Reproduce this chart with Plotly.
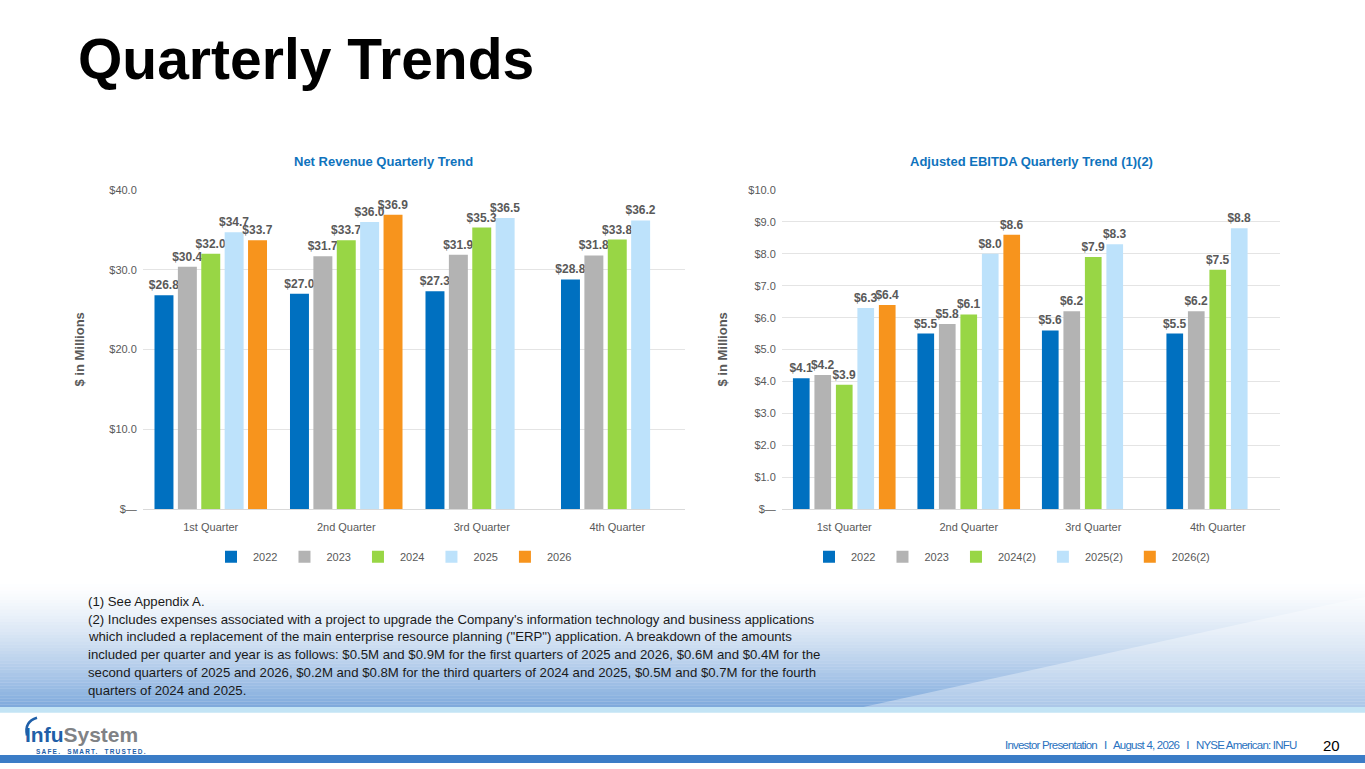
import plotly.graph_objects as go

W, H = 1365, 769

# chart data
quarters = ["1st Quarter", "2nd Quarter", "3rd Quarter", "4th Quarter"]
rev_years = ["2022", "2023", "2024", "2025", "2026"]
ebitda_years = ["2022", "2023", "2024(2)", "2025(2)", "2026(2)"]
year_colors = ["#0070C0", "#B3B3B3", "#98D645", "#BDE2FB", "#F7941D"]

rev_2022 = [26.8, 27.0, 27.3, 28.8]
rev_2023 = [30.4, 31.7, 31.9, 31.8]
rev_2024 = [32.0, 33.7, 35.3, 33.8]
rev_2025 = [34.7, 36.0, 36.5, 36.2]
rev_2026 = [33.7, 36.9, None, None]

ebitda_2022 = [4.1, 5.5, 5.6, 5.5]
ebitda_2023 = [4.2, 5.8, 6.2, 6.2]
ebitda_2024 = [3.9, 6.1, 7.9, 7.5]
ebitda_2025 = [6.3, 8.0, 8.3, 8.8]
ebitda_2026 = [6.4, 8.6, None, None]

rev_ticks = [0, 10, 20, 30, 40]
rev_ticktext = ["$\u2014", "$10.0", "$20.0", "$30.0", "$40.0"]
ebitda_ticks = [0, 1, 2, 3, 4, 5, 6, 7, 8, 9, 10]
ebitda_ticktext = ["$\u2014", "$1.0", "$2.0", "$3.0", "$4.0", "$5.0",
                   "$6.0", "$7.0", "$8.0", "$9.0", "$10.0"]

footnotes = [
    "(1) See Appendix A.",
    "(2) Includes expenses associated with a project to upgrade the Company's information technology and business applications",
    "which included a replacement of the main enterprise resource planning (\"ERP\") application. A breakdown of the amounts",
    "included per quarter and year is as follows: $0.5M and $0.9M for the first quarters of 2025 and 2026, $0.6M and $0.4M for the",
    "second quarters of 2025 and 2026, $0.2M and $0.8M for the third quarters of 2024 and 2025, $0.5M and $0.7M for the fourth",
    "quarters of 2024 and 2025.",
]

ARIAL = "Arial, Liberation Sans, sans-serif"
GRAY = "#595959"


def fx(px):
    return px / W


def fy(py):
    return 1 - py / H


fig = go.Figure()

rev_series = [rev_2022, rev_2023, rev_2024, rev_2025, rev_2026]
for name, vals, col in zip(rev_years, rev_series, year_colors):
    fig.add_trace(go.Bar(
        x=quarters, y=vals, name=name, marker_color=col, marker_line_width=0,
        width=0.14, xaxis="x", yaxis="y", legend="legend",
        texttemplate="$%{y:.1f}", textposition="outside", cliponaxis=False,
        constraintext="none",
        textfont=dict(family=ARIAL, size=12, color=GRAY, weight="bold"),
        hoverinfo="skip",
    ))

ebitda_series = [ebitda_2022, ebitda_2023, ebitda_2024, ebitda_2025, ebitda_2026]
for name, vals, col in zip(ebitda_years, ebitda_series, year_colors):
    fig.add_trace(go.Bar(
        x=quarters, y=vals, name=name, marker_color=col, marker_line_width=0,
        width=0.134, xaxis="x2", yaxis="y2", legend="legend2",
        texttemplate="$%{y:.1f}", textposition="outside", cliponaxis=False,
        constraintext="none",
        textfont=dict(family=ARIAL, size=12, color=GRAY, weight="bold"),
        hoverinfo="skip",
    ))

axis_font = dict(family=ARIAL, size=11, color=GRAY)
xcommon = dict(showgrid=False, zeroline=False, showline=False, ticks="outside",
               ticklen=8, tickcolor="rgba(0,0,0,0)", tickfont=axis_font,
               fixedrange=True)
ycommon = dict(showgrid=True, gridcolor="#E4E4E4", gridwidth=1, zeroline=True,
               zerolinecolor="#D9D9D9", zerolinewidth=1, showline=False,
               ticks="outside", ticklen=3, tickcolor="rgba(0,0,0,0)",
               tickfont=axis_font, fixedrange=True)

# page background: blue band, light stripe, bottom bar
shapes = []
n_strips = 40
top, bottom = 584, 713
for i in range(n_strips):
    t = (i + 0.5) / n_strips
    y0 = top + (bottom - top) * i / n_strips
    y1 = top + (bottom - top) * (i + 1) / n_strips
    shapes.append(dict(type="rect", xref="paper", yref="paper", layer="below",
                       x0=0, x1=1, y0=fy(y1), y1=fy(y0), line_width=0,
                       fillcolor=f"rgba(52,120,200,{0.64 * t ** 1.4:.3f})"))
shapes.append(dict(type="path", xref="paper", yref="paper", layer="below",
                   path=f"M {fx(860)},{fy(713)} L {fx(1365)},{fy(600)} L {fx(1365)},{fy(713)} Z",
                   fillcolor="rgba(255,255,255,0.35)", line_width=0))
shapes.append(dict(type="rect", xref="paper", yref="paper", layer="below",
                   x0=0, x1=1, y0=fy(718), y1=fy(712), line_width=0,
                   fillcolor="#C3E4F5"))
shapes.append(dict(type="rect", xref="paper", yref="paper", layer="below",
                   x0=0, x1=1, y0=0, y1=fy(761), line_width=0,
                   fillcolor="#3B7CC6"))
# logo arc
shapes.append(dict(type="path", xref="paper", yref="paper",
                   path=f"M {fx(27)},{fy(741)} Q {fx(24)},{fy(727)} {fx(37)},{fy(723)}",
                   line=dict(color="#1F5FA8", width=2.5)))

annotations = [
    dict(text="Quarterly Trends", x=fx(76), y=fy(54), xanchor="left",
         font=dict(family=ARIAL, size=57, color="#000000", weight="bold")),
    dict(text="Net Revenue Quarterly Trend", x=fx(383), y=fy(158), xanchor="center",
         font=dict(family=ARIAL, size=13, color="#0F73BD", weight="bold")),
    dict(text="Adjusted EBITDA Quarterly Trend (1)(2)", x=fx(1031), y=fy(158), xanchor="center",
         font=dict(family=ARIAL, size=13, color="#0F73BD", weight="bold")),
    dict(text="$ in Millions", x=fx(80), y=fy(349), textangle=-90, xanchor="center",
         font=dict(family=ARIAL, size=13, color=GRAY, weight="bold")),
    dict(text="$ in Millions", x=fx(723), y=fy(349), textangle=-90, xanchor="center",
         font=dict(family=ARIAL, size=13, color=GRAY, weight="bold")),
    dict(text="<span style='color:#1F5FA8'>Infu</span><span style='color:#808285'>System</span>",
         x=fx(23), y=fy(740), xanchor="left",
         font=dict(family=ARIAL, size=21, weight="bold")),
    dict(text="<span style='letter-spacing:1.2px'>SAFE.  SMART.  TRUSTED.</span>",
         x=fx(34), y=fy(757), xanchor="left",
         font=dict(family=ARIAL, size=6.5, color="#1F5FA8", weight="bold")),
    dict(text="<span style='letter-spacing:-0.8px'>Investor Presentation   I   "
              "August 4, 2026   I   NYSE American: INFU</span>",
         x=fx(1299), y=fy(751), xanchor="right",
         font=dict(family=ARIAL, size=11.5, color="#2A72C0")),
    dict(text="20", x=fx(1342), y=fy(751), xanchor="right",
         font=dict(family=ARIAL, size=15, color="#000000")),
]
for i, line in enumerate(footnotes):
    annotations.append(dict(text=line, x=fx(86), y=fy(605 + 18 * i), xanchor="left",
                            font=dict(family=ARIAL, size=13.2, color="#1A1A1A")))
for a in annotations:
    a["xref"] = "paper"
    a["yref"] = "paper"
    a["yanchor"] = "middle"
    a["showarrow"] = False

legend_common = dict(orientation="h", xanchor="left", yanchor="middle",
                     itemwidth=34,
                     font=dict(family=ARIAL, size=11, color=GRAY),
                     bgcolor="rgba(0,0,0,0)", itemclick=False, itemdoubleclick=False)

fig.update_layout(
    width=W, height=H,
    margin=dict(l=0, r=0, t=0, b=0),
    paper_bgcolor="#FFFFFF", plot_bgcolor="rgba(0,0,0,0)",
    barmode="group", bargap=0.137,
    xaxis=dict(domain=[fx(143), fx(685)], anchor="y", **xcommon),
    yaxis=dict(domain=[fy(511), fy(187)], anchor="x", range=[0, 40],
               tickvals=rev_ticks, ticktext=rev_ticktext, **ycommon),
    xaxis2=dict(domain=[fx(782), fx(1280)], anchor="y2", **xcommon),
    yaxis2=dict(domain=[fy(511), fy(187)], anchor="x2", range=[0, 10],
                tickvals=ebitda_ticks, ticktext=ebitda_ticktext, **ycommon),
    legend=dict(x=fx(209), y=fy(559.5), **legend_common),
    legend2=dict(x=fx(807), y=fy(559.5), **legend_common),
    shapes=shapes,
    annotations=annotations,
    font=dict(family=ARIAL),
)

fig.write_html(
    "out.html",
    config={"displayModeBar": False},
    post_script=(
        "document.documentElement.style.overflow='hidden';"
        "document.body.style.margin='0';"
        "document.body.style.overflow='hidden';"
    ),
)
